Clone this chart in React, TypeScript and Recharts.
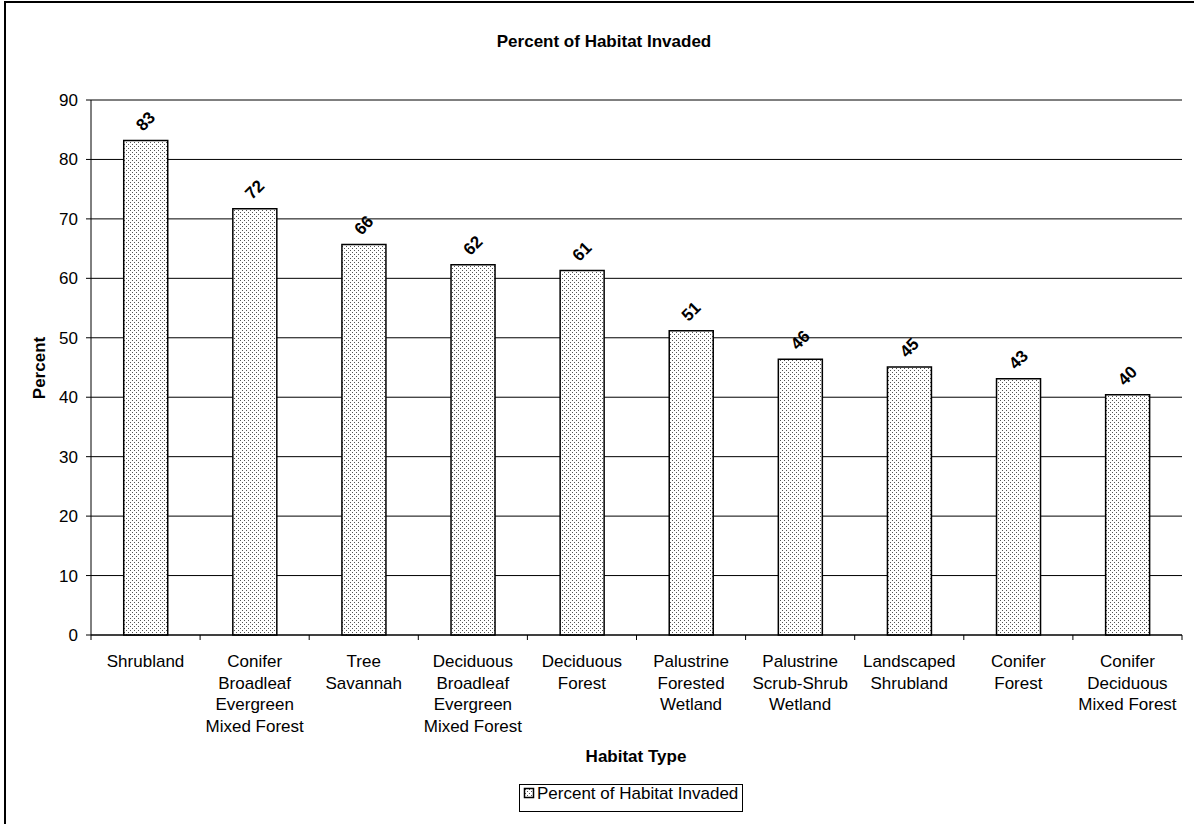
import React from 'react';
import { BarChart, Bar, XAxis, YAxis, CartesianGrid, ReferenceLine, LabelList } from 'recharts';

const categories = [
  'Shrubland',
  'Conifer Broadleaf Evergreen Mixed Forest',
  'Tree Savannah',
  'Deciduous Broadleaf Evergreen Mixed Forest',
  'Deciduous Forest',
  'Palustrine Forested Wetland',
  'Palustrine Scrub-Shrub Wetland',
  'Landscaped Shrubland',
  'Conifer Forest',
  'Conifer Deciduous Mixed Forest',
];

const categoryLines = [
  ['Shrubland'],
  ['Conifer', 'Broadleaf', 'Evergreen', 'Mixed Forest'],
  ['Tree', 'Savannah'],
  ['Deciduous', 'Broadleaf', 'Evergreen', 'Mixed Forest'],
  ['Deciduous', 'Forest'],
  ['Palustrine', 'Forested', 'Wetland'],
  ['Palustrine', 'Scrub-Shrub', 'Wetland'],
  ['Landscaped', 'Shrubland'],
  ['Conifer', 'Forest'],
  ['Conifer', 'Deciduous', 'Mixed Forest'],
];

const percentInvaded = [83.2, 71.7, 65.7, 62.3, 61.3, 51.2, 46.4, 45.1, 43.1, 40.4];

const yTicks = [0, 10, 20, 30, 40, 50, 60, 70, 80, 90];

const chartTitle = 'Percent of Habitat Invaded';
const xTitle = 'Habitat Type';
const yTitle = 'Percent';
const seriesName = 'Percent of Habitat Invaded';

const data = categories.map((habitat, i) => ({ habitat, percent: percentInvaded[i] }));

const FONT = '"Liberation Sans", Arial, Helvetica, sans-serif';

const CategoryTick = (props: any) => {
  const { x, y, index, width, payload } = props;
  const axisWidth = typeof width === 'number' && width > 0 ? width : 1091;
  const band = axisWidth / categories.length;
  const lines = categoryLines[index] ?? [String(payload?.value ?? '')];
  const isLast = index === categories.length - 1;
  return (
    <g>
      <line x1={x - band / 2} x2={x - band / 2} y1={y} y2={y + 5} stroke="#000" strokeWidth={1} />
      {isLast && <line x1={x + band / 2} x2={x + band / 2} y1={y} y2={y + 5} stroke="#000" strokeWidth={1} />}
      <text x={x} y={y + 32} textAnchor="middle" fontFamily={FONT} fontSize={17} fill="#000">
        {lines.map((ln, i) => (
          <tspan key={i} x={x} dy={i === 0 ? 0 : 21.5}>
            {ln}
          </tspan>
        ))}
      </text>
    </g>
  );
};

const ValueLabel = (props: any) => {
  const { x, y, width, value } = props;
  const cx = Number(x) + Number(width) / 2;
  const cy = Number(y) - 19;
  return (
    <text
      transform={`translate(${cx},${cy}) rotate(-45)`}
      textAnchor="middle"
      dominantBaseline="central"
      fontFamily={FONT}
      fontSize={17}
      fontWeight="bold"
      fill="#000"
    >
      {Math.round(Number(value))}
    </text>
  );
};

export default function App() {
  return (
    <div
      style={{
        position: 'fixed',
        left: 0,
        top: 0,
        width: 1194,
        height: 824,
        overflow: 'hidden',
        background: '#fff',
      }}
    >
      <div
        style={{
          position: 'absolute',
          left: 4,
          top: 1,
          width: 1200,
          height: 840,
          border: '2px solid #000',
          boxSizing: 'border-box',
        }}
      />
      <div style={{ position: 'absolute', left: 0, top: 0 }}>
        <BarChart
          width={1194}
          height={824}
          data={data}
          margin={{ top: 100, right: 12, left: 31, bottom: 129 }}
          barCategoryGap="30%"
        >
          <defs>
            <pattern id="dotsFill" width="4" height="4" patternUnits="userSpaceOnUse">
              <rect x="0" y="0" width="4" height="4" fill="#fff" />
              <rect x="0" y="0" width="1" height="1" fill="#555" />
              <rect x="2" y="2" width="1" height="1" fill="#555" />
            </pattern>
          </defs>
          <CartesianGrid vertical={false} stroke="#000" strokeWidth={1} />
          <XAxis
            dataKey="habitat"
            interval={0}
            height={60}
            tickSize={0}
            tickMargin={0}
            tickLine={false}
            axisLine={{ stroke: '#000', strokeWidth: 1 }}
            tick={<CategoryTick />}
          />
          <YAxis
            width={60}
            domain={[0, 90]}
            ticks={yTicks}
            interval={0}
            tickSize={5}
            tickMargin={8}
            tickLine={{ stroke: '#000' }}
            axisLine={{ stroke: '#000', strokeWidth: 1 }}
            tick={{ fill: '#000', fontSize: 17, fontFamily: FONT }}
          />
          <YAxis
            yAxisId="r"
            orientation="right"
            width={0}
            domain={[0, 90]}
            tick={false}
            tickLine={false}
            axisLine={{ stroke: '#808080', strokeWidth: 1 }}
          />
          <ReferenceLine y={90} stroke="#808080" strokeWidth={1} />
          <Bar
            dataKey="percent"
            name={seriesName}
            fill="url(#dotsFill)"
            stroke="#000"
            strokeWidth={1.5}
            isAnimationActive={false}
          >
            <LabelList dataKey="percent" content={<ValueLabel />} />
          </Bar>
        </BarChart>
      </div>
      <svg
        width={1194}
        height={824}
        style={{ position: 'absolute', left: 0, top: 0, pointerEvents: 'none' }}
      >
        <defs>
          <pattern id="dotsLegend" width="4" height="4" patternUnits="userSpaceOnUse" x="1" y="1">
            <rect x="0" y="0" width="4" height="4" fill="#fff" />
            <rect x="0" y="0" width="1" height="1" fill="#555" />
            <rect x="2" y="2" width="1" height="1" fill="#555" />
          </pattern>
        </defs>
        <text x={604} y={47} textAnchor="middle" fontFamily={FONT} fontSize={17} fontWeight="bold" fill="#000">
          {chartTitle}
        </text>
        <text x={636} y={762} textAnchor="middle" fontFamily={FONT} fontSize={17} fontWeight="bold" fill="#000">
          {xTitle}
        </text>
        <text
          transform="translate(45,368) rotate(-90)"
          textAnchor="middle"
          fontFamily={FONT}
          fontSize={17}
          fontWeight="bold"
          fill="#000"
        >
          {yTitle}
        </text>
        <rect x={519.5} y={784.5} width={223} height={27} fill="#fff" stroke="#000" strokeWidth={1} />
        <rect x={524.5} y={788.5} width={9} height={9} fill="url(#dotsLegend)" stroke="#000" strokeWidth={1.5} />
        <text x={537} y={799} fontFamily={FONT} fontSize={17} fill="#000">
          {seriesName}
        </text>
      </svg>
    </div>
  );
}
